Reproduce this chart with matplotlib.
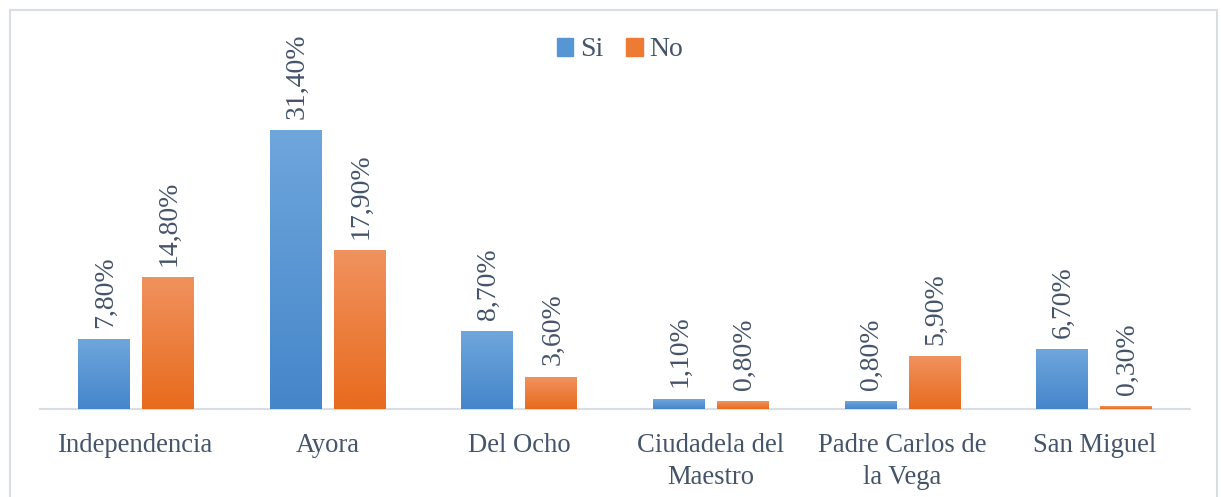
import matplotlib
matplotlib.use("Agg")
import matplotlib.pyplot as plt
import numpy as np
from matplotlib.patches import Rectangle

categories = ["Independencia", "Ayora", "Del Ocho", "Ciudadela del\nMaestro",
              "Padre Carlos de\nla Vega", "San Miguel"]
si_values = [7.8, 31.4, 8.7, 1.1, 0.8, 6.7]
no_values = [14.8, 17.9, 3.6, 0.8, 5.9, 0.3]
series_names = ["Si", "No"]

plt.rcParams['font.family'] = ['Liberation Serif', 'DejaVu Serif']
text_color = '#44546A'

W, H = 1221, 497
fig = plt.figure(figsize=(W / 100, H / 100), dpi=100)

# outer border
fig.patches.append(Rectangle((10 / W, -0.01), (1217 - 10) / W, 1 - 10 / H + 0.01,
                             transform=fig.transFigure, fill=False,
                             edgecolor='#D9DDE5', linewidth=1.5))

ax = fig.add_axes([40 / W, 1 - 409 / H, (1190 - 40) / W, (409 - 99) / H])
ax.set_xlim(-0.5, len(categories) - 0.5)
ax.set_ylim(0, 35)

bw = 0.27
off = 0.1675

def gradient_bar(x, h, top_col, bot_col):
    c1 = np.array(matplotlib.colors.to_rgb(top_col))
    c2 = np.array(matplotlib.colors.to_rgb(bot_col))
    t = np.linspace(0, 1, 100)[:, None]
    img = (c1 * (1 - t) + c2 * t)[:, None, :]
    ax.imshow(img, extent=(x - bw / 2, x + bw / 2, 0, h), aspect='auto',
              origin='upper', zorder=2, interpolation='bilinear')

x = np.arange(len(categories))
for i in range(len(categories)):
    gradient_bar(x[i] - off, si_values[i], '#6FA6DC', '#4586CA')
    gradient_bar(x[i] + off, no_values[i], '#F0925E', '#E86B1E')
    for xx, v in ((x[i] - off, si_values[i]), (x[i] + off, no_values[i])):
        ax.annotate(f"{v:.2f}%".replace('.', ','), (xx, v), xytext=(1, 8.5),
                    textcoords='offset points', rotation=90, ha='center',
                    va='bottom', fontsize=20, color=text_color,
                    annotation_clip=False)

ax.set_xlim(-0.5, len(categories) - 0.5)
ax.set_ylim(0, 35)

for s in ['top', 'right', 'left']:
    ax.spines[s].set_visible(False)
ax.spines['bottom'].set_color('#D9DDE5')
ax.spines['bottom'].set_linewidth(1.5)
ax.spines['bottom'].set_zorder(1)
ax.set_yticks([])
ax.set_xticks(x)
ax.set_xticklabels(categories, fontsize=19.2, color=text_color, linespacing=1.38)
ax.tick_params(axis='x', length=0, pad=17)

# legend
handles = [Rectangle((0, 0), 1, 1, color='#5696D3'),
           Rectangle((0, 0), 1, 1, color='#EE7B33')]
fig.legend(handles, series_names, loc='center', bbox_to_anchor=(620 / W, 1 - 50 / H),
           ncol=2, frameon=False, fontsize=20, labelcolor=text_color,
           handlelength=0.6, handleheight=0.6, handletextpad=0.25,
           columnspacing=0.8)

fig.savefig("out.png", dpi=100)
